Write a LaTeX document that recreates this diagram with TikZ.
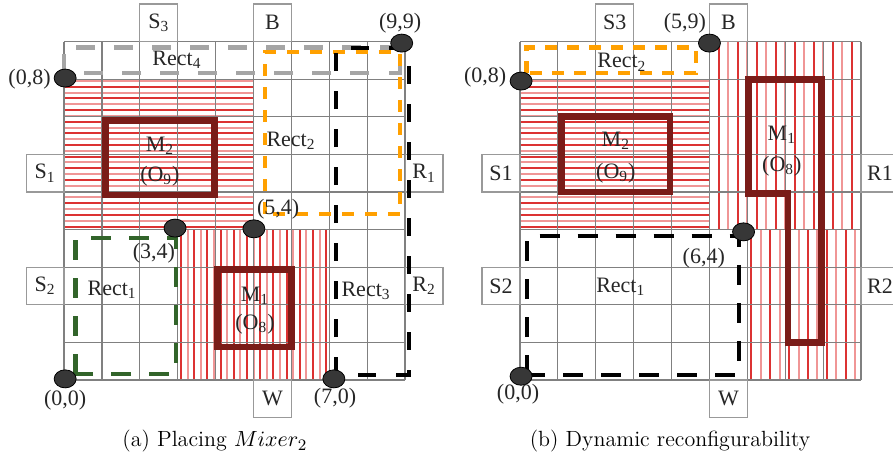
\documentclass[tikz,border=0pt]{standalone}
\usepackage{fontspec}
\usepackage{amsmath}
\usetikzlibrary{shapes.geometric}
\newfontfamily\timesfont{Liberation Serif}
\definecolor{cinzaG}{RGB}{128,128,128}
\definecolor{marrom}{RGB}{122,28,24}
\definecolor{laranja}{RGB}{255,160,0}
\definecolor{verde}{RGB}{50,100,42}
\definecolor{cinzaT}{RGB}{165,165,165}
\definecolor{vermE}{RGB}{220,50,50}
\definecolor{vermC}{RGB}{240,150,150}
\definecolor{pontoC}{RGB}{55,55,55}
\newcommand{\corA}{cinzaG}
\newcommand{\corB}{marrom}
\newcommand{\corC}{laranja}
\newcommand{\corD}{verde}
\newcommand{\corE}{cinzaT}
\newcommand{\corF}{vermE}
\newcommand{\corG}{vermC}
\newcommand{\corH}{pontoC}
\begin{document}
\begin{tikzpicture}[x=18.95pt, y=18.8pt,
    font=\timesfont\fontsize{11}{13}\selectfont, text=black!85,
    lado/.style={draw=\corA!80, line width=0.6pt, minimum width=18.95pt, minimum height=18.8pt, inner sep=0pt},
    ponto/.style={ellipse, draw=black, fill=\corH, line width=0.4pt, minimum width=11pt, minimum height=9pt, inner sep=0pt},
    grossa/.style={draw=\corB, line width=3.4pt},
    hach/.style={line width=1pt},
    legenda/.style={font=\normalfont\fontsize{11}{13}\selectfont, text=black}]
    \useasboundingbox (-1.689,-2.021) rectangle (21.873,10.106);

          % painel a: hachuras
        \foreach \k in {0,...,12} {
          \draw[hach, \corF] (0,4.08+0.31*\k) -- (5,4.08+0.31*\k);
          \draw[hach, \corG] (0,4.235+0.31*\k) -- (5,4.235+0.31*\k);
        }
        \foreach \k in {0,...,11} \draw[hach, \corF] (3.087+0.348*\k,0) -- (3.087+0.348*\k,4);
        \foreach \k in {0,...,10} \draw[hach, \corG] (3.261+0.348*\k,0) -- (3.261+0.348*\k,4);

          % painel a: grade e lados
        \draw[\corA, line width=0.6pt, step=1] (0,0) grid (9,9);
        \node[lado] (s3a) at (2.5,9.5) {S\textsubscript{3}};
        \node[lado] (ba) at (5.5,9.5) {B};
        \node[lado] (s1a) at (-0.5,5.5) {S\textsubscript{1}};
        \node[lado] (s2a) at (-0.5,2.5) {S\textsubscript{2}};
        \node[lado] (r1a) at (9.5,5.5) {R\textsubscript{1}};
        \node[lado] (r2a) at (9.5,2.5) {R\textsubscript{2}};
        \node[lado] (wa) at (5.5,-0.5) {W};

          % painel a: misturadores
        \draw[grossa] (1.1,4.92) rectangle (3.96,6.91);
        \draw[grossa] (4.06,0.88) rectangle (6.0,2.93);
        \node (m2a) at (2.53,6.22) {M\textsubscript{2}};
        \node (o9a) at (2.53,5.43) {(O\textsubscript{9})};
        \node (m1a) at (5.04,2.23) {M\textsubscript{1}};
        \node (o8a) at (5.04,1.49) {(O\textsubscript{8})};

          % painel a: retangulos livres
        \draw[\corE, line width=2.3pt, dash pattern=on 9.5pt off 9.5pt] (0,8.16) rectangle (8.87,8.84);
        \draw[\corC, line width=2.3pt, dash pattern=on 6pt off 5.5pt] (5.3,4.41) rectangle (8.87,8.72);
        \draw[black, line width=2pt, dash pattern=on 9pt off 10pt] (7.18,0.13) rectangle (9.1,8.83);
        \draw[\corD, line width=2.3pt, dash pattern=on 10pt off 9pt] (0.3,0.16) rectangle (2.96,3.78);
        \node (rect4a) at (2.98,8.51) {Rect\textsubscript{4}};
        \node (rect2a) at (5.99,6.36) {Rect\textsubscript{2}};
        \node (rect1a) at (1.27,2.39) {Rect\textsubscript{1}};
        \node (rect3a) at (7.97,2.37) {Rect\textsubscript{3}};

          % painel a: pontos
        \node[ponto] (p08a) at (0.03,8.03) {};
        \node[ponto] (p99a) at (8.91,8.96) {};
        \node[ponto] (p34a) at (2.93,4.04) {};
        \node[ponto] (p54a) at (5.01,4.02) {};
        \node[ponto] (p00a) at (0.03,0.03) {};
        \node[ponto] (p70a) at (7.12,0.03) {};
        \node (l08a) at (-0.91,8.0) {(0,8)};
        \node (l99a) at (8.87,9.49) {(9,9)};
        \node (l34a) at (2.37,3.38) {(3,4)};
        \node (l54a) at (5.65,4.55) {(5,4)};
        \node (l00a) at (0.03,-0.53) {(0,0)};
        \node (l70a) at (7.15,-0.48) {(7,0)};
        \node[legenda, anchor=base] (capa) at (3.98,-1.78) {(a) Placing $Mixer_2$};

    \begin{scope}[shift={(12.03,0)}]
          % painel b: hachuras
        \foreach \k in {0,...,12} {
          \draw[hach, \corF] (0,4.08+0.31*\k) -- (5,4.08+0.31*\k);
          \draw[hach, \corG] (0,4.235+0.31*\k) -- (5,4.235+0.31*\k);
        }
        \foreach \k in {0,...,7} \draw[hach, \corF] (5.25+0.5*\k,4) -- (5.25+0.5*\k,9);
        \foreach \k in {0,...,6} \draw[hach, \corG] (5.5+0.5*\k,4) -- (5.5+0.5*\k,9);
        \foreach \k in {0,...,5} \draw[hach, \corF] (6.1+0.5*\k,0) -- (6.1+0.5*\k,4);
        \foreach \k in {0,...,5} \draw[hach, \corG] (6.35+0.5*\k,0) -- (6.35+0.5*\k,4);

          % painel b: grade e lados
        \draw[\corA, line width=0.6pt, step=1] (0,0) grid (9,9);
        \node[lado] (s3b) at (2.5,9.5) {S3};
        \node[lado] (bb) at (5.5,9.5) {B};
        \node[lado] (s1b) at (-0.5,5.5) {S1};
        \node[lado] (s2b) at (-0.5,2.5) {S2};
        \node[lado] (r1b) at (9.5,5.5) {R1};
        \node[lado] (r2b) at (9.5,2.5) {R2};
        \node[lado] (wb) at (5.5,-0.5) {W};

          % painel b: misturadores
        \draw[grossa] (1.1,5.0) rectangle (3.96,7.0);
        \draw[grossa] (6.03,8) -- (7.95,8) -- (7.95,1.0) -- (7.07,1.0) -- (7.07,4.95) -- (6.03,4.95) -- cycle;
        \node (m2b) at (2.53,6.36) {M\textsubscript{2}};
        \node (o9b) at (2.53,5.5) {(O\textsubscript{9})};
        \node (m1b) at (6.91,6.52) {M\textsubscript{1}};
        \node (o8b) at (6.91,5.69) {(O\textsubscript{8})};

          % painel b: retangulos livres
        \draw[\corC, line width=2.3pt, dash pattern=on 6pt off 5pt] (0.18,8.16) rectangle (4.64,8.84);
        \draw[black, line width=2pt, dash pattern=on 10pt off 9pt] (0.18,0.13) rectangle (5.77,3.83);
        \node (rect2b) at (2.69,8.45) {Rect\textsubscript{2}};
        \node (rect1b) at (2.66,2.47) {Rect\textsubscript{1}};

          % painel b: pontos
        \node[ponto] (p08b) at (0.03,7.95) {};
        \node[ponto] (p59b) at (5.0,8.96) {};
        \node[ponto] (p64b) at (5.9,3.94) {};
        \node[ponto] (p00b) at (0.03,0.1) {};
        \node (l08b) at (-0.92,8.06) {(0,8)};
        \node (l59b) at (4.35,9.49) {(5,9)};
        \node (l64b) at (4.85,3.24) {(6,4)};
        \node (l00b) at (-0.05,-0.37) {(0,0)};
        \node[legenda, anchor=base] (capb) at (3.96,-1.78) {(b) Dynamic reconfigurability};
    \end{scope}
    \end{tikzpicture}
\end{document}
